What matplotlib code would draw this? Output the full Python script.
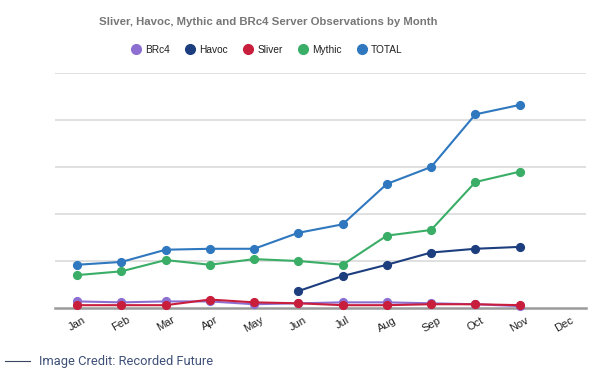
import matplotlib
matplotlib.use("Agg")
import matplotlib.pyplot as plt
from matplotlib.lines import Line2D
import numpy as np

months = ["Jan", "Feb", "Mar", "Apr", "May", "Jun", "Jul", "Aug", "Sep", "Oct", "Nov", "Dec"]
brc4 = [7, 6, 7, 7, 4, 5, 6, 6, 5, 4, 2]
havoc = [None, None, None, None, None, 18, 34, 46, 59, 63, 65]
sliver = [3, 3, 3, 9, 6, 5, 3, 3, 4, 4, 3]
mythic = [35, 39, 51, 46, 52, 50, 46, 77, 83, 134, 145]
total = [46, 49, 62, 63, 63, 80, 89, 132, 150, 206, 216]

series = [
    ("BRc4", brc4, "#8c6fd1"),
    ("Havoc", havoc, "#1d3e7e"),
    ("Sliver", sliver, "#c81e3c"),
    ("Mythic", mythic, "#3aae67"),
    ("TOTAL", total, "#2f78bf"),
]
zorders = {"TOTAL": 3, "Mythic": 4, "Havoc": 5, "BRc4": 6, "Sliver": 7}

plt.rcParams['font.family'] = ['Liberation Sans', 'DejaVu Sans']

fig = plt.figure(figsize=(6.03, 3.75), dpi=100)
ax = fig.add_axes([55/603, (375-308)/375, (586-55)/603, (308-73)/375])

for name, vals, color in series:
    x = [i for i, v in enumerate(vals) if v is not None]
    y = [v for v in vals if v is not None]
    ax.plot(x, y, color=color, lw=1.5, marker='o', ms=5.6, zorder=zorders[name],
            clip_on=False)

ax.set_xlim(-0.5, 11.5)
ax.set_ylim(0, 250)
ax.set_yticks([50, 100, 150, 200, 250])
ax.set_yticklabels([])
ax.yaxis.grid(True, color="#dddddd", lw=1.3)
ax.set_axisbelow(True)
ax.tick_params(axis='y', length=0)
for s in ["top", "right", "left"]:
    ax.spines[s].set_visible(False)
ax.spines["bottom"].set_color("#9a9a9a")
ax.spines["bottom"].set_linewidth(1.8)
ax.spines["bottom"].set_zorder(2)

ax.set_xticks(range(len(months)))
ax.set_xticklabels(months, rotation=30, ha='center', va='top', fontsize=8, color="#222222")
ax.tick_params(axis='x', length=0, pad=5)

fig.text(268/603, 1 - 22/375, "Sliver, Havoc, Mythic and BRc4 Server Observations by Month",
         ha='center', va='center', fontsize=8.2, fontweight='bold', color="#777777")

handles = [Line2D([], [], ls='none', marker='o', ms=7, color=c, label=n) for n, _, c in series]
fig.legend(handles=handles, loc='center', bbox_to_anchor=(268/603, 1 - 50/375), ncol=5,
           frameon=False, fontsize=7.3, handlelength=0.6, handletextpad=0.6, columnspacing=1.7,
           labelcolor="#222222")

fig.add_artist(Line2D([5/603, 30/603], [1 - 361/375, 1 - 361/375], color="#3a4660", lw=0.8))
fig.text(39/603, 1 - 361/375, "Image Credit: Recorded Future", ha='left', va='center',
         fontsize=9.3, color="#3e5077", family=['Roboto', 'DejaVu Sans'])

fig.savefig("out.png", dpi=100)
